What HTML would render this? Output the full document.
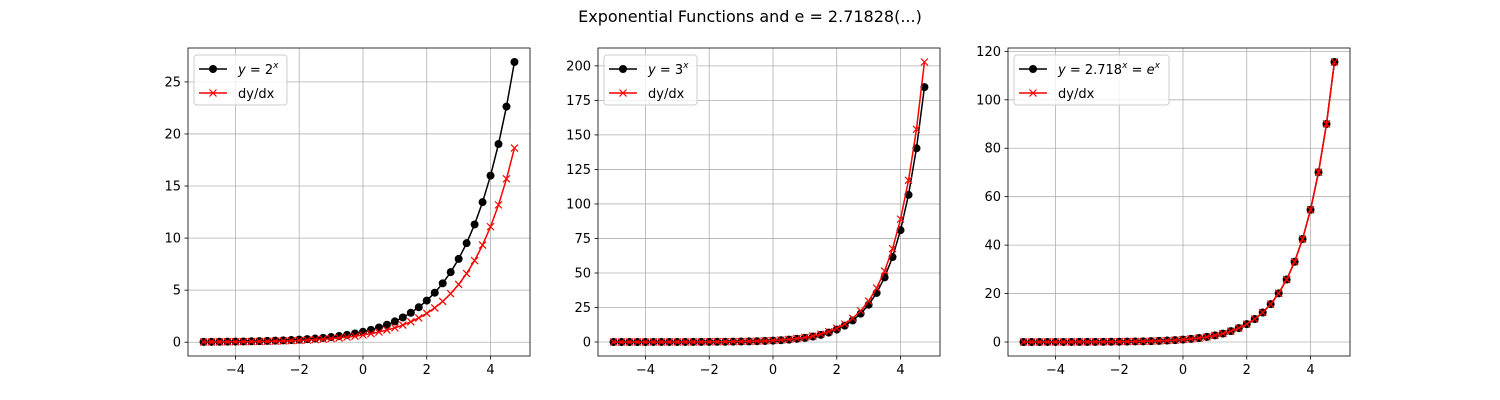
<!DOCTYPE html>
<html><head><meta charset="utf-8">
<style>
html,body{margin:0;padding:0;background:#fff;}
svg{display:block;font-family:"DejaVu Sans","Liberation Sans",sans-serif;}
</style></head>
<body>
<svg id="fig" width="1500" height="400" viewBox="0 0 1500 400">
<rect width="1500" height="400" fill="#fff"/>
<text x="750" y="22" text-anchor="middle" font-size="16" fill="#000">Exponential Functions and e = 2.71828(...)</text>
</svg>
<script>
const xValues = [-5,-4.75,-4.5,-4.25,-4,-3.75,-3.5,-3.25,-3,-2.75,-2.5,-2.25,-2,-1.75,-1.5,-1.25,-1,-0.75,-0.5,-0.25,0,0.25,0.5,0.75,1,1.25,1.5,1.75,2,2.25,2.5,2.75,3,3.25,3.5,3.75,4,4.25,4.5,4.75];
const y2 = [0.03125,0.03716,0.04419,0.05256,0.0625,0.07433,0.08839,0.1051,0.125,0.1487,0.1768,0.2102,0.25,0.2973,0.3536,0.4204,0.5,0.5946,0.7071,0.8409,1,1.189,1.414,1.682,2,2.378,2.828,3.364,4,4.757,5.657,6.727,8,9.514,11.31,13.45,16,19.03,22.63,26.91];
const d2 = [0.02166,0.02576,0.03063,0.03643,0.04332,0.05152,0.06127,0.07286,0.08664,0.1030,0.1225,0.1457,0.1733,0.2061,0.2451,0.2914,0.3466,0.4122,0.4901,0.5829,0.6931,0.8243,0.9803,1.166,1.386,1.649,1.961,2.332,2.773,3.297,3.921,4.663,5.545,6.595,7.842,9.326,11.09,13.19,15.69,18.65];
const y3 = [0.004115,0.005416,0.007128,0.009381,0.01235,0.01625,0.02138,0.02814,0.03704,0.04874,0.06415,0.08443,0.1111,0.1462,0.1925,0.2533,0.3333,0.4387,0.5774,0.7598,1,1.316,1.732,2.280,3,3.948,5.196,6.838,9,11.84,15.59,20.52,27,35.53,46.77,61.55,81,106.6,140.3,184.6];
const d3 = [0.004521,0.005950,0.007831,0.01031,0.01356,0.01785,0.02349,0.03092,0.04069,0.05355,0.07048,0.09276,0.1221,0.1606,0.2114,0.2783,0.3662,0.4820,0.6343,0.8347,1.099,1.446,1.903,2.504,3.296,4.337,5.708,7.512,9.888,13.01,17.13,22.54,29.66,39.03,51.38,67.62,88.99,117.1,154.1,202.8];
const ye = [0.006738,0.008652,0.01111,0.01426,0.01832,0.02352,0.03020,0.03877,0.04979,0.06393,0.08208,0.1054,0.1353,0.1738,0.2231,0.2865,0.3679,0.4724,0.6065,0.7788,1,1.284,1.649,2.117,2.718,3.490,4.482,5.755,7.389,9.488,12.18,15.64,20.09,25.79,33.12,42.52,54.60,70.11,90.02,115.6];
const de = [0.006738,0.008652,0.01111,0.01426,0.01832,0.02352,0.03020,0.03877,0.04979,0.06393,0.08208,0.1054,0.1353,0.1738,0.2231,0.2865,0.3679,0.4724,0.6065,0.7788,1,1.284,1.649,2.117,2.718,3.490,4.482,5.755,7.389,9.488,12.18,15.64,20.09,25.79,33.12,42.52,54.60,70.11,90.02,115.6];
const xTicks = [-4,-2,0,2,4];
const yTicks1 = [0,5,10,15,20,25];
const yTicks2 = [0,25,50,75,100,125,150,175,200];
const yTicks3 = [0,20,40,60,80,100,120];

const NS = "http://www.w3.org/2000/svg";
const fig = document.getElementById('fig');
function mk(tag, attrs, parent){
  const e = document.createElementNS(NS, tag);
  for (const k in attrs) e.setAttribute(k, attrs[k]);
  (parent||fig).appendChild(e);
  return e;
}
function extent(arrs){
  let mn=Infinity, mx=-Infinity;
  arrs.forEach(a=>a.forEach(v=>{mn=Math.min(mn,v);mx=Math.max(mx,v);}));
  const m=(mx-mn)*0.05; return [mn-m, mx+m];
}
function panel(idx, left, ys, ds, yTicks, base, legW){
  const top=48, bottom=356, w=342, right=left+w;
  const g = mk('g',{});
  
  
  const [x0,x1]=extent([xValues]);
  const [y0,y1]=extent([ys,ds]);
  const X=v=>left+(v-x0)/(x1-x0)*w;
  const Y=v=>bottom-(v-y0)/(y1-y0)*(bottom-top);
  xTicks.forEach(t=>{
    const l=mk('line',{x1:X(t),x2:X(t),y1:top,y2:bottom,stroke:'#b0b0b0','stroke-width':0.8},g);
    
    
    mk('line',{x1:X(t),x2:X(t),y1:bottom,y2:bottom+3.5,stroke:'#000','stroke-width':0.8},g);
    const tx=mk('text',{x:X(t),y:bottom+18,'text-anchor':'middle','font-size':13},g);
    tx.textContent=(t<0?'\u2212'+(-t):t);
    
    
  });
  yTicks.forEach(t=>{
    const l=mk('line',{x1:left,x2:right,y1:Y(t),y2:Y(t),stroke:'#b0b0b0','stroke-width':0.8},g);
    
    
    mk('line',{x1:left-3.5,x2:left,y1:Y(t),y2:Y(t),stroke:'#000','stroke-width':0.8},g);
    const tx=mk('text',{x:left-7,y:Y(t)+4.5,'text-anchor':'end','font-size':13},g);
    tx.textContent=t;
    
    
  });
  const p1=mk('polyline',{points:xValues.map((x,i)=>X(x)+','+Y(ys[i])).join(' '),fill:'none',stroke:'#000','stroke-width':1.5},g);
  
  
  xValues.forEach((x,i)=>{
    const c=mk('circle',{cx:X(x),cy:Y(ys[i]),r:4,fill:'#000'},g);
    
    
  });
  const p2=mk('polyline',{points:xValues.map((x,i)=>X(x)+','+Y(ds[i])).join(' '),fill:'none',stroke:'#f00','stroke-width':1.5},g);
  
  
  xValues.forEach((x,i)=>{
    const cx=X(x), cy=Y(ds[i]);
    const m=mk('path',{d:`M${cx-3.5},${cy-3.5}L${cx+3.5},${cy+3.5}M${cx-3.5},${cy+3.5}L${cx+3.5},${cy-3.5}`,stroke:'#f00','stroke-width':1.2},g);
    
    
  });
  mk('rect',{x:left,y:top,width:w,height:bottom-top,fill:'none',stroke:'#000','stroke-width':0.8},g);
  // legend
  const lg=mk('g',{},g);
  
  
  mk('rect',{x:left+6,y:top+7,width:legW,height:50,rx:3,fill:'#fff','fill-opacity':0.8,stroke:'#ccc','stroke-width':1},lg);
  const ly1=top+21, ly2=top+45, lx=left+11;
  mk('line',{x1:lx,x2:lx+28,y1:ly1,y2:ly1,stroke:'#000','stroke-width':1.5},lg);
  mk('circle',{cx:lx+14,cy:ly1,r:4,fill:'#000'},lg);
  mk('line',{x1:lx,x2:lx+28,y1:ly2,y2:ly2,stroke:'#f00','stroke-width':1.5},lg);
  mk('path',{d:`M${lx+10.5},${ly2-3.5}L${lx+17.5},${ly2+3.5}M${lx+10.5},${ly2+3.5}L${lx+17.5},${ly2-3.5}`,stroke:'#f00','stroke-width':1.2},lg);
  const t1=mk('text',{x:lx+39,y:ly1+5,'font-size':13},lg);
  if(base==='e'){
    t1.innerHTML='<tspan font-style="italic">y</tspan> = 2.718<tspan font-style="italic" font-size="9" dy="-6">x</tspan><tspan dy="6"> = </tspan><tspan font-style="italic">e</tspan><tspan font-style="italic" font-size="9" dy="-6">x</tspan>';
  } else {
    t1.innerHTML='<tspan font-style="italic">y</tspan> = '+base+'<tspan font-style="italic" font-size="9" dy="-6">x</tspan>';
  }
  
  
  const t2=mk('text',{x:lx+39,y:ly2+5,'font-size':13},lg);
  t2.textContent='dy/dx';
  
  
}
panel(0,188,y2,d2,yTicks1,'2',93);
panel(1,598,y3,d3,yTicks2,'3',93);
panel(2,1008,ye,de,yTicks3,'e',155);
</script>
</body></html>
